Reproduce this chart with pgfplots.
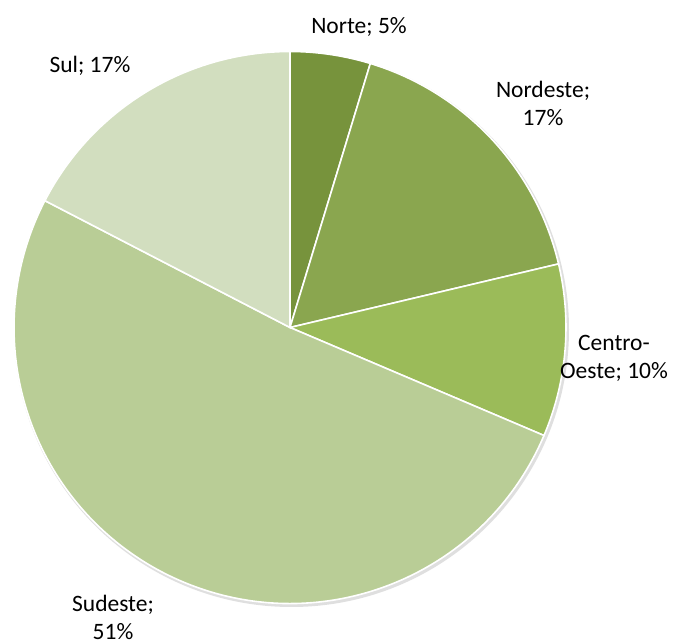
\documentclass[border=0pt]{standalone}
\usepackage{pgfplots}
\usepackage{pgfplotstable}
\pgfplotsset{compat=1.18}
\usepackage{fontspec}
\setmainfont{Carlito}
\definecolor{cNorte}{HTML}{77933C}
\definecolor{cNordeste}{HTML}{8AA64F}
\definecolor{cCentro}{HTML}{9BBB59}
\definecolor{cSudeste}{HTML}{B9CD96}
\definecolor{cSul}{HTML}{D2DEBF}
\pgfplotstableread{
name value
Norte 4.7
Nordeste 16.6
CentroOeste 10.1
Sudeste 51.2
Sul 17.4
}\piedata
\begin{document}
\begin{tikzpicture}
\pgfplotstablegetelem{0}{value}\of\piedata \pgfmathsetmacro\vA{\pgfplotsretval}
\pgfplotstablegetelem{1}{value}\of\piedata \pgfmathsetmacro\vB{\pgfplotsretval}
\pgfplotstablegetelem{2}{value}\of\piedata \pgfmathsetmacro\vC{\pgfplotsretval}
\pgfplotstablegetelem{3}{value}\of\piedata \pgfmathsetmacro\vD{\pgfplotsretval}
\pgfplotstablegetelem{4}{value}\of\piedata \pgfmathsetmacro\vE{\pgfplotsretval}
\pgfmathsetmacro\aA{90}
\pgfmathsetmacro\aB{\aA-3.6*\vA}
\pgfmathsetmacro\aC{\aB-3.6*\vB}
\pgfmathsetmacro\aD{\aC-3.6*\vC}
\pgfmathsetmacro\aE{\aD-3.6*\vD}
\pgfmathsetmacro\aF{\aE-3.6*\vE}
\begin{axis}[width=673pt,height=644pt,scale only axis,
  xmin=0,xmax=673,ymin=0,ymax=644,hide axis,clip=false]
\path[draw=white,line width=0pt] (rel axis cs:0,0) rectangle (rel axis cs:1,1);
\def\cx{290}\def\cy{316.5}\def\R{276pt}
\fill[black!25,opacity=0.5] (axis cs:\cx+1.5,\cy-2) circle[radius=277.5pt];
\fill[cNorte,draw=white,line width=1.6pt] (axis cs:\cx,\cy) -- ([shift={(\aA:\R)}]axis cs:\cx,\cy) arc[start angle=\aA,end angle=\aB,radius=\R] -- cycle;
\fill[cNordeste,draw=white,line width=1.6pt] (axis cs:\cx,\cy) -- ([shift={(\aB:\R)}]axis cs:\cx,\cy) arc[start angle=\aB,end angle=\aC,radius=\R] -- cycle;
\fill[cCentro,draw=white,line width=1.6pt] (axis cs:\cx,\cy) -- ([shift={(\aC:\R)}]axis cs:\cx,\cy) arc[start angle=\aC,end angle=\aD,radius=\R] -- cycle;
\fill[cSudeste,draw=white,line width=1.6pt] (axis cs:\cx,\cy) -- ([shift={(\aD:\R)}]axis cs:\cx,\cy) arc[start angle=\aD,end angle=\aE,radius=\R] -- cycle;
\fill[cSul,draw=white,line width=1.6pt] (axis cs:\cx,\cy) -- ([shift={(\aE:\R)}]axis cs:\cx,\cy) arc[start angle=\aE,end angle=\aF,radius=\R] -- cycle;
\begin{scope}[every node/.style={font=\fontsize{23.5}{28}\selectfont,align=center,inner sep=0pt}]
\node at (axis cs:359,617) {Norte; 5\%};
\node at (axis cs:543,541) {Nordeste;\\17\%};
\node at (axis cs:614,285.5) {Centro-\\Oeste; 10\%};
\node at (axis cs:90,578) {Sul; 17\%};
\node at (axis cs:113,27) {Sudeste;\\51\%};
\end{scope}
\end{axis}
\end{tikzpicture}
\end{document}
